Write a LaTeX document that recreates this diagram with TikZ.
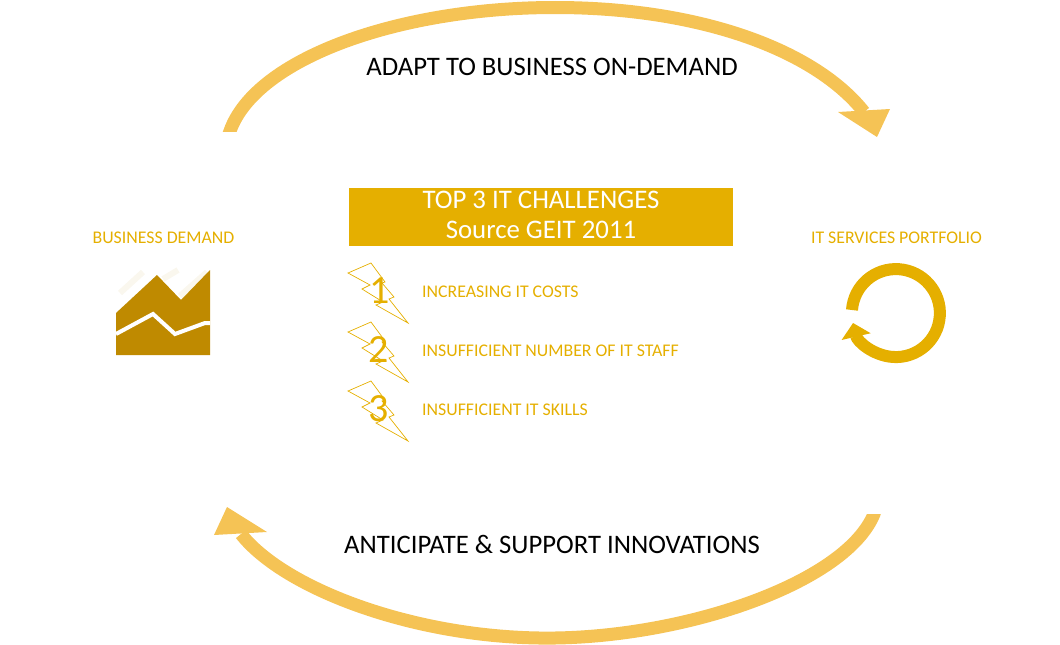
\documentclass[tikz,border=0pt]{standalone}
\usepackage{fontspec}
\setmainfont{Carlito}
\usetikzlibrary{arrows.meta}
\definecolor{Gold}{HTML}{E5AF00}
\definecolor{Soft}{HTML}{F5C355}
\definecolor{Dark}{HTML}{BF8A00}
\definecolor{Pale}{HTML}{FAF7EE}
\tikzset{
  cycleline/.style={draw=Soft,line width=13pt},
  cyclehead/.style={fill=Soft},
  cyclelabel/.style={font=\fontsize{26.7}{30}\selectfont,text=black,inner sep=0pt},
  goldlabel/.style={font=\fontsize{17.8}{21}\selectfont,text=Gold,inner sep=0pt},
  itemlabel/.style={goldlabel,anchor=west},
  numlabel/.style={font=\fontsize{40}{44}\selectfont,text=Gold,inner sep=0pt},
  titlebox/.style={fill=Gold,minimum width=384pt,minimum height=58pt,inner sep=0pt},
  titletext/.style={text=white,inner sep=0pt,align=center,font=\fontsize{26.8}{30}\selectfont},
  bolt/.pic={\draw[Gold,line width=0.7pt,line join=miter] (0,0) -- (23,-10) -- (37,9) -- (34,10) -- (46,24) -- (41,26) -- (60,50) -- (28,32) -- (35,29) -- (14,16) -- (22,12) -- cycle;}
}
\begin{document}
\begin{tikzpicture}[x=1pt,y=-1pt]
  \useasboundingbox (0,0) rectangle (1060,645);
  % loop arrows
  \coordinate (adaptstart) at (225,145);
  \coordinate (adaptbend) at (230,131);
  \coordinate (adaptend) at (864,112);
  \coordinate (innovstart) at (878,500);
  \coordinate (innovbend) at (874,514);
  \coordinate (innovend) at (241,534);
  \begin{scope}
    \clip (0,0) rectangle (1060,131.5);
    \draw[cycleline] (adaptstart) -- (adaptbend) .. controls (256,58) and (400,7.5) .. (555,7.5) .. controls (700,7.5) and (815,50) .. (adaptend);
  \end{scope}
  \fill[cyclehead] (838,112) -- (890,109) -- (877,137) -- cycle;
  \begin{scope}
    \clip (0,514) rectangle (1060,645);
    \draw[cycleline] (innovstart) -- (innovbend) .. controls (846,582) and (690,636) .. (555,638) .. controls (420,640) and (285,590) .. (innovend);
  \end{scope}
  \fill[cyclehead] (227,507) -- (214,535) -- (267,532) -- cycle;
  \node[cyclelabel] (adapt) at (552,67) {ADAPT TO BUSINESS ON-DEMAND};
  \node[cyclelabel] (innov) at (552,544) {ANTICIPATE \& SUPPORT INNOVATIONS};
  % centre
  \node[titlebox] (title) at (541,217) {};
  \node[titletext] (titletext) at (541,214.5) {TOP 3 IT CHALLENGES\\Source GEIT 2011};
  \pic at (348,273) {bolt};
  \pic at (348,332) {bolt};
  \pic at (348,391) {bolt};
  \node[numlabel] (num1) at (380,291) {1};
  \node[numlabel] (num2) at (379,350) {2};
  \node[numlabel] (num3) at (379,409) {3};
  \node[itemlabel] (item1) at (422,292) {INCREASING IT COSTS};
  \node[itemlabel] (item2) at (422,351) {INSUFFICIENT NUMBER OF IT STAFF};
  \node[itemlabel] (item3) at (422,410) {INSUFFICIENT IT SKILLS};
  % business side
  \node[goldlabel] (demand) at (163.5,238) {BUSINESS DEMAND};
  \draw[Pale,line width=6pt] (120,293) -- (143,272) (163,279) -- (178,270) (180,296) -- (207,272);
  \fill[Dark] (116,313) -- (157,275) -- (181,300) -- (210,270) -- (210,355) -- (116,355) -- cycle;
  \draw[white,line width=4pt] (116,334) -- (153,314) -- (175,334) -- (205,323) -- (210,323);
  % it side
  \node[goldlabel] (portfolio) at (896.5,238) {IT SERVICES PORTFOLIO};
  \coordinate (loopstart) at (852,310);
  \draw[-{Triangle[length=14pt,width=29pt]},Gold,line width=12pt] (loopstart) arc[start angle=184,end angle=527,radius=44];
\end{tikzpicture}
\end{document}
